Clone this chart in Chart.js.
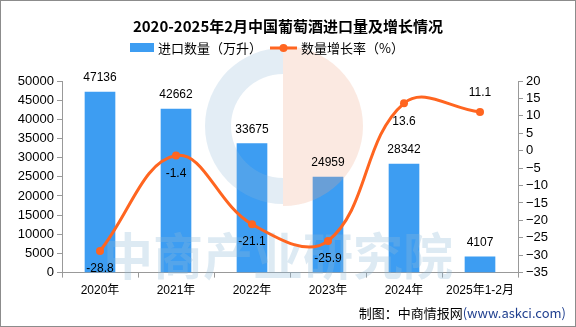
<!DOCTYPE html>
<html><head><meta charset="utf-8">
<script src="https://cdn.jsdelivr.net/npm/chart.js@4"></script>
<style>html,body{margin:0;padding:0;background:#fff}#wrap{width:576px;height:327px;position:relative}</style>
</head><body><div id="wrap"><canvas id="c" width="576" height="327"></canvas></div>
<script>
const categories = ['2020年','2021年','2022年','2023年','2024年','2025年1-2月'];
const importVolume = [47136, 42662, 33675, 24959, 28342, 4107];
const growthRate = [-28.8, -1.4, -21.1, -25.9, 13.6, 11.1];
const leftTicks = [0,5000,10000,15000,20000,25000,30000,35000,40000,45000,50000];
const rightTicks = [-35,-30,-25,-20,-15,-10,-5,0,5,10,15,20];
const titleText = '2020-2025年2月中国葡萄酒进口量及增长情况';
const legendBar = '进口数量（万升）';
const legendLine = '数量增长率（%）';
const sourceA = '制图：中商情报网';
const sourceB = '(www.askci.com)';
const watermarkText = '中商产业研究院';

const BAR = '#3d9df2', LINE = '#ff6520';
const SANS = '"Liberation Sans", "Noto Sans CJK SC", sans-serif';

const decor = {
  id: 'decor',
  beforeDraw(chart) {
    const ctx = chart.ctx;
    ctx.save();
    ctx.fillStyle = '#fff';
    ctx.fillRect(0, 0, chart.width, chart.height);
    ctx.restore();
  },
  afterDatasetDraw(chart, args) {
    if (args.index !== 0) return;
    const ctx = chart.ctx;
    ctx.save();
    const cx = 283, cy = 126;
    ctx.globalAlpha = 0.25;
    ctx.fillStyle = '#8fb9d6';
    ctx.beginPath();
    ctx.arc(cx, cy, 78, Math.PI * 0.5, Math.PI * 1.5);
    ctx.arc(cx, cy, 52, Math.PI * 1.5, Math.PI * 0.5, true);
    ctx.closePath();
    ctx.fill();
    ctx.fillStyle = '#f0a888';
    ctx.beginPath();
    ctx.arc(cx, cy, 80, -Math.PI * 0.5, Math.PI * 0.5);
    ctx.lineTo(cx, cy - 80);
    ctx.fill();
    ctx.globalAlpha = 0.3;
    ctx.fillStyle = '#8fb9d6';
    ctx.font = 'bold 50px "Noto Sans CJK SC"';
    ctx.textAlign = 'center';
    ctx.textBaseline = 'middle';
    ctx.fillText(watermarkText, 278, 256);
    ctx.restore();
  },
  afterDraw(chart) {
    const ctx = chart.ctx;
    ctx.save();
    ctx.fillStyle = '#000';
    ctx.textAlign = 'center';
    ctx.textBaseline = 'middle';
    ctx.font = 'bold 15px "Noto Sans CJK SC"';
    ctx.fillText(titleText, 288, 26);
    ctx.font = '13px "Noto Sans CJK SC"';
    ctx.textAlign = 'left';
    ctx.fillStyle = BAR;
    ctx.fillRect(130, 43, 24, 9);
    ctx.fillStyle = '#000';
    ctx.fillText(legendBar, 158, 48);
    ctx.strokeStyle = LINE; ctx.lineWidth = 3;
    ctx.beginPath(); ctx.moveTo(270, 48); ctx.lineTo(297, 48); ctx.stroke();
    ctx.fillStyle = LINE;
    ctx.beginPath(); ctx.arc(283.5, 48, 4, 0, Math.PI * 2); ctx.fill();
    ctx.fillStyle = '#000';
    ctx.fillText(legendLine, 301, 48);
    ctx.font = '12px "Liberation Sans"';
    ctx.textAlign = 'center';
    const bm = chart.getDatasetMeta(0);
    bm.data.forEach((el, i) => {
      ctx.fillText(String(importVolume[i]), el.x, el.y - 14);
    });
    const lm = chart.getDatasetMeta(1);
    lm.data.forEach((el, i) => {
      const above = i === growthRate.length - 1;
      ctx.fillText(growthRate[i].toFixed(1), el.x, above ? el.y - 19 : el.y + 18);
    });
    ctx.font = '13px "Noto Sans CJK SC"';
    ctx.textAlign = 'right';
    ctx.fillStyle = '#1f3f8f';
    ctx.fillText(sourceB, 566, 313);
    const w = ctx.measureText(sourceB).width;
    ctx.fillStyle = '#000';
    ctx.fillText(sourceA, 566 - w, 313);
    ctx.strokeStyle = '#8c8c8c'; ctx.lineWidth = 1;
    ctx.strokeRect(0.5, 0.5, chart.width - 1, chart.height - 1);
    ctx.restore();
  }
};

new Chart(document.getElementById('c'), {
  data: {
    labels: categories,
    datasets: [
      { type: 'bar', label: legendBar, data: importVolume, backgroundColor: BAR, yAxisID: 'y', order: 2, barThickness: 30 },
      { type: 'line', label: legendLine, data: growthRate, borderColor: LINE, backgroundColor: LINE, borderWidth: 3,
        pointRadius: 4, pointBackgroundColor: LINE, pointBorderWidth: 0, tension: 0.4, yAxisID: 'y1', order: 1 }
    ]
  },
  options: {
    responsive: false, animation: false,
    layout: { padding: { top: 81, left: 0, right: 0, bottom: 23 } },
    plugins: { legend: { display: false }, title: { display: false }, tooltip: { enabled: false } },
    scales: {
      x: {
        offset: true,
        grid: { display: true, drawOnChartArea: false, offset: true, tickLength: 5, color: '#999' },
        border: { color: '#999' },
        ticks: { color: '#000', font: { family: SANS, size: 12 }, padding: 6, maxRotation: 0, autoSkip: false }
      },
      y: {
        position: 'left', min: 0, max: 50000,
        afterBuildTicks(s) { s.ticks = leftTicks.map(v => ({ value: v })); },
        afterFit(s) { s.width = 62; },
        grid: { drawOnChartArea: false, tickLength: 5, color: '#999' },
        border: { color: '#999' },
        ticks: { color: '#000', font: { family: SANS, size: 13 }, padding: 3, autoSkip: false, callback: v => String(v) }
      },
      y1: {
        position: 'right', min: -35, max: 20,
        afterBuildTicks(s) { s.ticks = rightTicks.map(v => ({ value: v })); },
        afterFit(s) { s.width = 58; },
        grid: { drawOnChartArea: false, tickLength: 5, color: '#999' },
        border: { color: '#999' },
        ticks: { color: '#000', font: { family: SANS, size: 13 }, padding: 3, autoSkip: false, callback: v => String(v).replace('-', '\u2212') }
      }
    }
  },
  plugins: [decor]
});
</script></body></html>
